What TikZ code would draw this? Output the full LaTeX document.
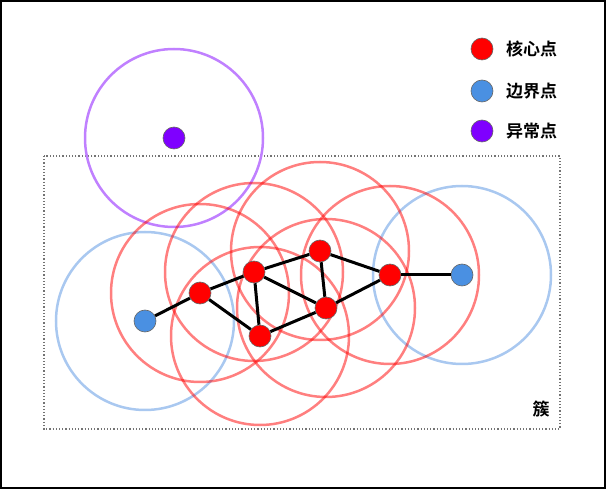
\documentclass[tikz,border=0pt]{standalone}
\usepackage{fontspec}
\newfontfamily\cjk{Noto Sans CJK SC}[BoldFont={* Bold}]
\begin{document}
\begin{tikzpicture}[x=1pt,y=-1pt,
  core/.style={circle,fill=red,draw=black!60,line width=0.6pt,minimum size=22pt,inner sep=0pt},
  border/.style={circle,fill={rgb,255:red,74;green,144;blue,226},draw=black!60,line width=0.6pt,minimum size=22pt,inner sep=0pt},
  noise/.style={circle,fill={rgb,255:red,127;green,0;blue,255},draw=black!60,line width=0.6pt,minimum size=22pt,inner sep=0pt},
  redring/.style={draw=red,draw opacity=0.5,line width=2.5pt},
  bluering/.style={draw={rgb,255:red,169;green,200;blue,240},line width=2.5pt},
  purplering/.style={draw={rgb,255:red,192;green,128;blue,255},line width=2.5pt},
  edge/.style={line width=3pt,black},
  lab/.style={font=\cjk\bfseries\fontsize{17}{20}\selectfont,anchor=west,inner sep=0pt}]
\useasboundingbox (0,0) rectangle (606,489);
\draw[line width=2pt] (1,1) rectangle (605,488);
% cluster box
\draw[dotted,line width=1.2pt,black!55] (44,156) rectangle (560,429);
\node[font=\cjk\bfseries\fontsize{17}{20}\selectfont] (cl) at (541,409) {簇};
% rings
\draw[purplering] (174,138) circle (89);
\draw[bluering] (145,321) circle (89);
\draw[bluering] (462,275) circle (89);
\foreach \p in {(200,293),(254,272),(320,251),(260,336),(326,308),(390,275)}
  \draw[redring] \p circle (89);
% points
\node[noise] (o) at (174,138) {};
\node[border] (bl) at (145,321) {};
\node[border] (br) at (462,275) {};
\node[core] (a) at (200,293) {};
\node[core] (b) at (254,272) {};
\node[core] (c) at (320,251) {};
\node[core] (d) at (260,336) {};
\node[core] (e) at (326,308) {};
\node[core] (f) at (390,275) {};
% edges
\draw[edge] (bl) -- (a);
\draw[edge] (a) -- (b);
\draw[edge] (a) -- (d);
\draw[edge] (b) -- (c);
\draw[edge] (b) -- (d);
\draw[edge] (b) -- (e);
\draw[edge] (c) -- (e);
\draw[edge] (c) -- (f);
\draw[edge] (d) -- (e);
\draw[edge] (e) -- (f);
\draw[edge] (f) -- (br);
% legend
\node[core] (l1) at (482,49) {};
\node[border] (l2) at (482,91) {};
\node[noise] (l3) at (482,131) {};
\node[lab] (t1) at (506,49) {核心点};
\node[lab] (t2) at (506,91) {边界点};
\node[lab] (t3) at (506,131) {异常点};
\end{tikzpicture}
\end{document}
